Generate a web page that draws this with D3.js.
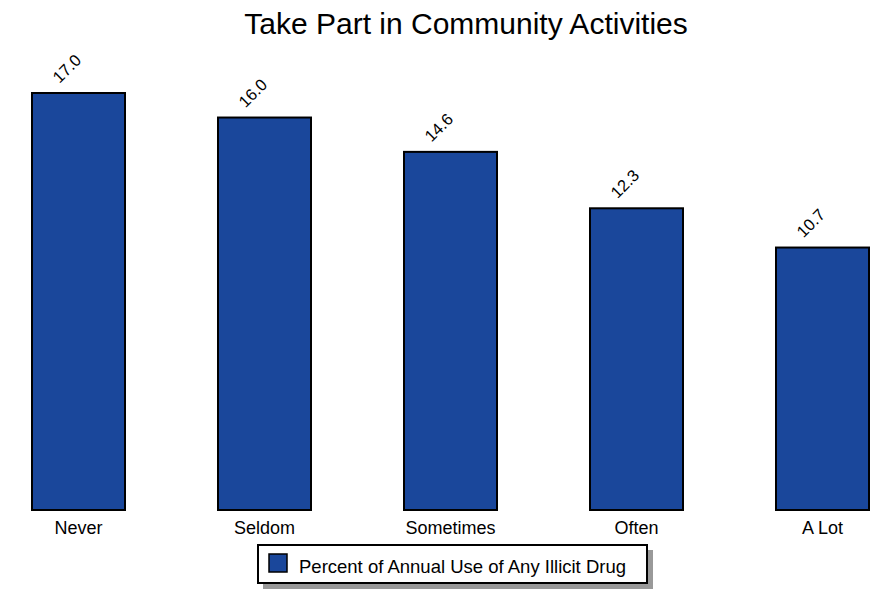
<!DOCTYPE html>
<html><head><meta charset="utf-8">
<script src="https://cdn.jsdelivr.net/npm/d3@7"></script>
<style>body{margin:0;background:#fff}svg{display:block}text{font-family:"Liberation Sans",Arial,sans-serif}</style>
</head><body>
<svg id="chart" width="878" height="589"></svg>
<script>
const title = "Take Part in Community Activities";
const categories = ["Never", "Seldom", "Sometimes", "Often", "A Lot"];
const values = [17.0, 16.0, 14.6, 12.3, 10.7];
const seriesName = "Percent of Annual Use of Any Illicit Drug";

const svg = d3.select("#chart");
const x = d3.scaleBand().domain(categories).range([32, 869]).paddingInner(0.5).paddingOuter(0);
const y = d3.scaleLinear().domain([0, 17]).range([510, 93]);
const fill = "#1a479b";

svg.append("text").attr("x", 466).attr("y", 34).attr("text-anchor", "middle")
  .attr("font-size", 30).text(title);

svg.selectAll("rect.bar").data(values).join("rect").attr("class", "bar")
  .attr("x", (d, i) => x(categories[i])).attr("width", x.bandwidth())
  .attr("y", d => y(d)).attr("height", d => y(0) - y(d))
  .attr("fill", fill).attr("stroke", "#000").attr("stroke-width", 2);

svg.selectAll("text.val").data(values).join("text").attr("class", "val")
  .attr("transform", (d, i) => `translate(${x(categories[i]) + x.bandwidth() / 2 - 19},${y(d) - 9}) rotate(-45)`)
  .attr("font-size", 16.5).text(d => d.toFixed(1));

const xAxis = svg.append("g").attr("transform", `translate(0,${y(0)})`)
  .call(d3.axisBottom(x).tickSize(0).tickPadding(11));
xAxis.select(".domain").remove();
xAxis.selectAll("text").attr("font-size", 18).attr("font-family", "Liberation Sans, Arial, sans-serif").attr("fill", "#000");

const lg = svg.append("g");
lg.append("rect").attr("x", 263).attr("y", 550).attr("width", 390).attr("height", 39).attr("fill", "#999");
lg.append("rect").attr("x", 258).attr("y", 545).attr("width", 389).attr("height", 38).attr("fill", "#fff").attr("stroke", "#000").attr("stroke-width", 2);
lg.append("rect").attr("x", 269).attr("y", 554).attr("width", 18).attr("height", 18).attr("fill", fill).attr("stroke", "#000").attr("stroke-width", 1.5);
lg.append("text").attr("x", 299).attr("y", 573).attr("font-size", 18.5).text(seriesName);
</script>
</body></html>
